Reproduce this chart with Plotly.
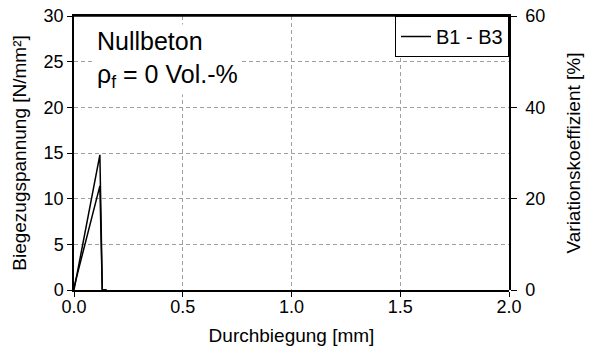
import plotly.graph_objects as go

# Data
x_b1 = [0.0, 0.119, 0.130, 0.150]
y_b1 = [0.0, 14.8, 0.0, 0.0]
x_b2 = [0.0, 0.114, 0.119, 0.130, 0.150]
y_b2 = [0.3, 11.0, 11.4, 0.0, 0.0]
legend_name = "B1 - B3"

x_ticks = [0.0, 0.5, 1.0, 1.5, 2.0]
x_ticklabels = ["0.0", "0.5", "1.0", "1.5", "2.0"]
y_ticks = [0, 5, 10, 15, 20, 25, 30]
y2_ticks = [0, 20, 40, 60]
y2_dummy_x = [0.0]
y2_dummy_y = [0.0]

FONT = "Liberation Sans"
GRID = dict(showgrid=True, gridcolor="#a0a0a0", griddash="4px,3px", gridwidth=1)

fig = go.Figure()
fig.add_trace(go.Scatter(x=x_b1, y=y_b1, mode="lines", name=legend_name,
                         line=dict(color="black", width=1.5), showlegend=True))
fig.add_trace(go.Scatter(x=x_b2, y=y_b2, mode="lines", name=legend_name,
                         line=dict(color="black", width=1.5), showlegend=False))
# empty series on the secondary (right / top) axes so they are drawn
fig.add_trace(go.Scatter(x=y2_dummy_x, y=y2_dummy_y, xaxis="x2", yaxis="y2", mode="lines",
                         line=dict(color="rgba(0,0,0,0)"), showlegend=False,
                         hoverinfo="skip"))

fig.update_layout(
    width=591, height=355,
    margin=dict(l=74, r=82, t=16, b=65, autoexpand=False),
    paper_bgcolor="white", plot_bgcolor="rgba(0,0,0,0)",
    font=dict(family=FONT, size=18, color="black"),
    xaxis=dict(range=[0, 2.0], tickvals=x_ticks, ticktext=x_ticklabels,
               domain=[0, 1], anchor="y",
               showline=True, mirror=True, linecolor="black", linewidth=1.5,
               ticks="outside", ticklen=5, tickcolor="black", tickwidth=1.2,
               zeroline=False, automargin=False, ticklabelstandoff=-5,
               tickfont=dict(family=FONT, size=18, color="black"),
               title=dict(text="Durchbiegung [mm]", font=dict(size=19), standoff=12),
               **GRID),
    yaxis=dict(range=[0, 30], tickvals=y_ticks, domain=[0, 1], anchor="x",
               showline=True, mirror=False, linecolor="black", linewidth=1.5,
               ticks="outside", ticklen=5, tickcolor="black", tickwidth=1.2,
               zeroline=False, automargin=False, ticklabeloverflow="allow",
               tickfont=dict(family=FONT, size=18, color="black"),
               title=dict(text="Biegezugspannung [N/mm²]", font=dict(size=19), standoff=12),
               **GRID),
    xaxis2=dict(range=[0, 2.0], domain=[0, 1], anchor="y2", side="top",
                showline=True, linecolor="black", linewidth=1.5,
                ticks="", showticklabels=False, showgrid=False, zeroline=False,
                automargin=False),
    yaxis2=dict(range=[0, 60], tickvals=y2_ticks, domain=[0, 1], anchor="x2",
                side="right",
                showline=True, linecolor="black", linewidth=1.5,
                ticks="outside", ticklen=6, tickcolor="black", tickwidth=1.2,
                showgrid=False, zeroline=False, automargin=False,
                ticklabeloverflow="allow", ticklabelstandoff=5,
                tickfont=dict(family=FONT, size=18, color="black"),
                title=dict(text="Variationskoeffizient [%]", font=dict(size=19), standoff=22)),
    legend=dict(x=1.0, y=1.0, xanchor="right", yanchor="top",
                bgcolor="white", bordercolor="black", borderwidth=1,
                font=dict(family=FONT, size=20, color="black"),
                itemwidth=30, tracegroupgap=0),
    showlegend=True,
)

# top frame line of the plot area (backup)
fig.add_shape(type="line", xref="paper", yref="paper", x0=0, x1=1, y0=1, y1=1,
              line=dict(color="black", width=1.5), layer="above")

fig.add_annotation(
    xref="paper", yref="paper", x=0.046, y=0.971, xanchor="left", yanchor="top",
    text="Nullbeton<br>ρ<sub>f</sub> = 0 Vol.-%", align="left", showarrow=False,
    font=dict(family=FONT, size=25, color="black"),
    bgcolor="white", borderpad=2,
)

fig.write_html("out.html", config={"displayModeBar": False},
               post_script="document.body.style.margin='0';")
